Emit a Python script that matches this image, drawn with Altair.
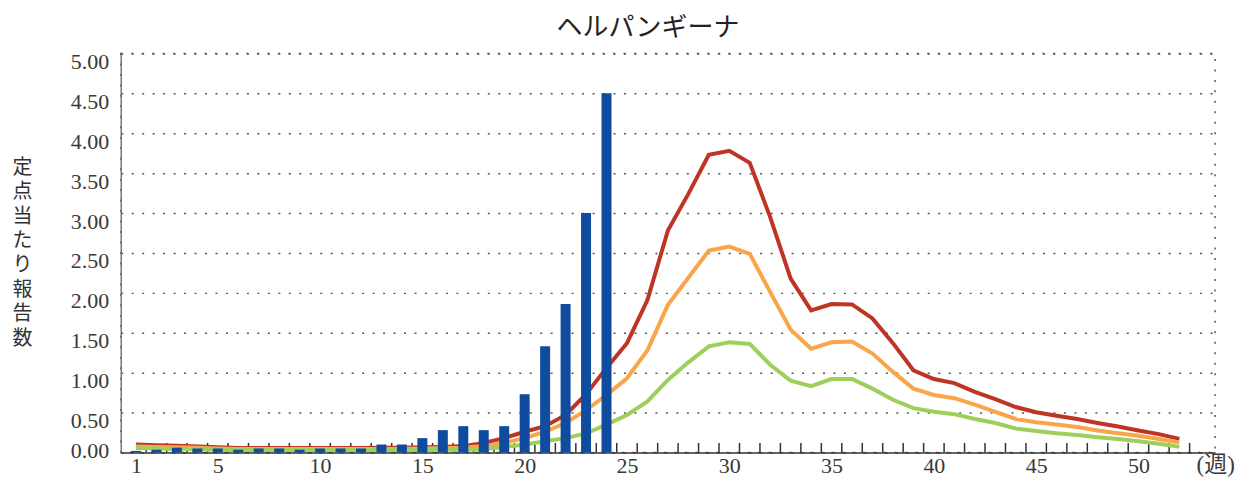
import altair as alt
import pandas as pd

weeks = list(range(1, 53))
bar_weeks = list(range(1, 25))

current = [0.02, 0.035, 0.06, 0.05, 0.05, 0.035, 0.05, 0.05, 0.035, 0.05,
           0.05, 0.05, 0.10, 0.10, 0.18, 0.28, 0.33, 0.28, 0.33, 0.73,
           1.33, 1.86, 3.00, 4.50]

red = [0.10, 0.09, 0.085, 0.075, 0.065, 0.055, 0.055, 0.055, 0.055, 0.055,
       0.055, 0.055, 0.06, 0.06, 0.065, 0.07, 0.08, 0.12, 0.18, 0.26,
       0.33, 0.47, 0.73, 1.06, 1.37, 1.91, 2.78, 3.24, 3.73, 3.78,
       3.63, 2.95, 2.18, 1.78, 1.86, 1.855, 1.68, 1.37, 1.03, 0.92,
       0.87, 0.76, 0.67, 0.57, 0.505, 0.46, 0.42, 0.37, 0.325, 0.275,
       0.23, 0.17]

orange = [0.075, 0.07, 0.065, 0.06, 0.05, 0.045, 0.045, 0.045, 0.045, 0.045,
          0.045, 0.045, 0.045, 0.045, 0.05, 0.055, 0.06, 0.08, 0.12, 0.18,
          0.26, 0.37, 0.53, 0.72, 0.93, 1.28, 1.85, 2.19, 2.53, 2.58,
          2.49, 2.01, 1.54, 1.30, 1.38, 1.39, 1.24, 1.01, 0.80, 0.72,
          0.68, 0.60, 0.51, 0.42, 0.38, 0.35, 0.32, 0.275, 0.24, 0.21,
          0.17, 0.125]

green = [0.055, 0.05, 0.045, 0.04, 0.035, 0.03, 0.03, 0.03, 0.03, 0.03,
         0.03, 0.03, 0.03, 0.03, 0.03, 0.035, 0.035, 0.04, 0.07, 0.10,
         0.14, 0.18, 0.24, 0.35, 0.47, 0.64, 0.91, 1.13, 1.33, 1.38,
         1.36, 1.10, 0.90, 0.83, 0.92, 0.92, 0.80, 0.66, 0.555, 0.51,
         0.48, 0.42, 0.37, 0.30, 0.27, 0.24, 0.22, 0.19, 0.17, 0.14,
         0.11, 0.07]

x_labels = [1, 5, 10, 15, 20, 25, 30, 35, 40, 45, 50]
y_ticks = [0, 0.5, 1.0, 1.5, 2.0, 2.5, 3.0, 3.5, 4.0, 4.5, 5.0]
tick_bounds = [w + 0.5 for w in range(1, 53)]

y_title = list("定点当たり報告数")

bar_df = pd.DataFrame({"week": bar_weeks, "value": current})
red_df = pd.DataFrame({"week": weeks, "value": red})
orange_df = pd.DataFrame({"week": weeks, "value": orange})
green_df = pd.DataFrame({"week": weeks, "value": green})
tick_df = pd.DataFrame({"week": tick_bounds,
                        "value": [0.0] * len(tick_bounds),
                        "value2": [0.12] * len(tick_bounds)})

serif = "Liberation Serif"
cjk = "Noto Sans CJK JP"
dash = [2, 8.5]

x_enc = alt.X(
    "week:Q",
    scale=alt.Scale(domain=[0.5, 53.5], nice=False, zero=False),
    axis=alt.Axis(
        values=x_labels, ticks=False, grid=False,
        labelFont=serif, labelFontSize=22, labelColor="#3a3a3a",
        labelPadding=3,
        domainColor="#333", domainWidth=1.5,
        titleFont=serif + ", " + cjk, titleFontSize=23, titleFontWeight="normal",
        titleColor="#3a3a3a", titleAlign="left", titleBaseline="alphabetic",
        titleX=1078, titleY=19,
    ),
    title="(週)",
)

y_enc = alt.Y(
    "value:Q",
    scale=alt.Scale(domain=[0, 5], nice=False),
    axis=alt.Axis(
        values=y_ticks, format=".2f", ticks=False,
        labelFont=serif, labelFontSize=22, labelColor="#3a3a3a",
        labelPadding=12, labelBaseline="top",
        labelOffset={"condition": {"test": "datum.value == 0", "value": -12}, "value": -2},
        grid=True, gridDash=dash, gridColor="#555", gridWidth=1.5,
        domainColor="#777", domainWidth=1.5,
        titleAngle=0, titleAlign="center", titleBaseline="top",
        titleX=-99, titleY=104, titleFont=cjk, titleFontSize=20,
        titleFontWeight="normal", titleLineHeight=24.5, titleColor="#333",
    ),
    title=y_title,
)

ticks = alt.Chart(tick_df).mark_rule(color="#333", strokeWidth=1.5).encode(
    x=x_enc, y=y_enc, y2="value2:Q"
)
line_red = alt.Chart(red_df).mark_line(color="#BE3526", strokeWidth=4).encode(x=x_enc, y=y_enc)
line_orange = alt.Chart(orange_df).mark_line(color="#F9A54A", strokeWidth=4).encode(x=x_enc, y=y_enc)
line_green = alt.Chart(green_df).mark_line(color="#9FCF5B", strokeWidth=4).encode(x=x_enc, y=y_enc)
bars = alt.Chart(bar_df).mark_bar(color="#0F4C9F", size=10).encode(x=x_enc, y=y_enc)

chart = alt.layer(ticks, line_red, line_orange, line_green, bars).properties(
    width=1097, height=400,
    autosize="none",
    padding={"left": 113, "top": 45, "right": 22, "bottom": 24},
    title=alt.TitleParams("ヘルパンギーナ", font=cjk, fontSize=26, fontWeight="normal",
                          color="#222", offset=10, dx=-20, anchor="middle"),
).configure_view(stroke="#555", strokeDash=dash, strokeWidth=1.5)

chart.save("out.html", embed_options={"renderer": "svg", "actions": False})
